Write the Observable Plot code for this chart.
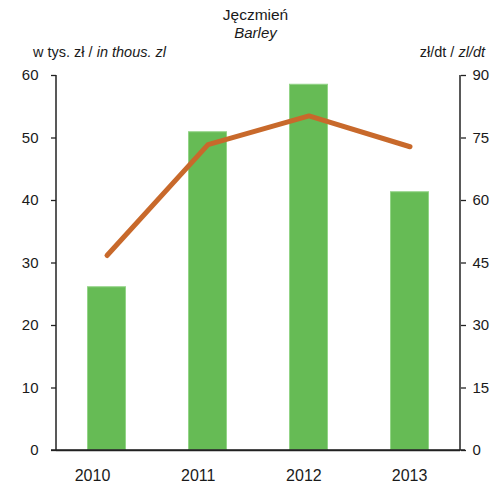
<!DOCTYPE html>
<html><head><meta charset="utf-8">
<script src="https://cdn.jsdelivr.net/npm/d3@7"></script>
<script src="https://cdn.jsdelivr.net/npm/@observablehq/plot@0.6"></script>
<style>
html,body{margin:0;padding:0;background:#fff;}
#c{position:relative;width:491px;height:486px;font-family:"Liberation Sans",Arial,sans-serif;color:#1a1a1a;}
.t{position:absolute;white-space:nowrap;}
</style></head>
<body><div id="c">
<div class="t" style="left:0;width:511px;text-align:center;top:6px;font-size:15.5px;">Jęczmień</div>
<div class="t" style="left:0;width:511px;text-align:center;top:24px;font-size:15px;font-style:italic;">Barley</div>
<div class="t" style="left:33px;top:44px;font-size:14.5px;">w tys. zł / <i>in thous. zl</i></div>
<div class="t" style="right:6px;top:44px;font-size:14.5px;">zł/dt / <i>zl/dt</i></div>
</div>
<script>
const years = ["2010", "2011", "2012", "2013"];
const valueThousZl = [26.2, 51.0, 58.6, 41.4];
const priceZlDt = [46.8, 73.4, 80.3, 72.9];
const leftTicks = [0, 10, 20, 30, 40, 50, 60];
const rightTicks = [0, 15, 30, 45, 60, 75, 90];

const ratio = 90 / 60;
const data = years.map((y, i) => ({year: y, value: valueThousZl[i], price: priceZlDt[i]}));

const mL = 56, mR = 31, mT = 75, mB = 36, W = 491, H = 486;
const chart = Plot.plot({
  width: W, height: H,
  marginLeft: mL, marginRight: mR, marginTop: mT, marginBottom: mB,
  style: {fontFamily: '"Liberation Sans", Arial, sans-serif', fontSize: "15px", color: "#1a1a1a", background: "transparent"},
  x: {domain: years, paddingInner: 0.61, paddingOuter: 0.305},
  y: {domain: [0, 60]},
  marks: [
    Plot.barY(data, {x: "year", y: "value", fill: "#66bb55", stroke: "#93d487", strokeWidth: 1, inset: 0.5}),
    Plot.line(data, {x: "year", y: d => d.price / ratio, stroke: "#c8692b", strokeWidth: 5, strokeLinecap: "round", strokeLinejoin: "round"}),
    Plot.axisY(leftTicks, {anchor: "left", tickSize: 5, tickPadding: 13, label: null, stroke: "#222", strokeWidth: 1.3}),
    Plot.axisY(rightTicks.map(t => t / ratio), {anchor: "right", tickSize: 5, tickPadding: 7, label: null, tickFormat: d => String(Math.round(d * ratio)), stroke: "#222", strokeWidth: 1.3}),
    Plot.axisX({tickSize: 0, tickPadding: 19, label: null, fontSize: 16}),
    Plot.ruleY([0], {stroke: "#222", strokeWidth: 1.5})
  ]
});
const svg = d3.select(chart);
const yS = chart.scale("y");
const y0 = yS.apply(0), y60 = yS.apply(60);
svg.append("line").attr("x1", mL).attr("x2", mL).attr("y1", y60).attr("y2", y0).attr("stroke", "#222").attr("stroke-width", 1.5);
svg.append("line").attr("x1", W - mR).attr("x2", W - mR).attr("y1", y60).attr("y2", y0).attr("stroke", "#222").attr("stroke-width", 1.5);
svg.append("line").attr("x1", mL - 5).attr("x2", W - mR + 5).attr("y1", y0).attr("y2", y0).attr("stroke", "#222").attr("stroke-width", 1.5);
// category labels in the reference are spread slightly wider than the bars
svg.selectAll('g[aria-label="x-axis tick label"] text').each(function(d, i) {
  const t = this.getAttribute("transform") || "";
  this.setAttribute("transform", t + ` translate(${-14.5 + 4.7 * i},0)`);
});
chart.style.position = "absolute";
chart.style.left = "0"; chart.style.top = "0";
document.getElementById("c").appendChild(chart);
</script>
</body></html>
